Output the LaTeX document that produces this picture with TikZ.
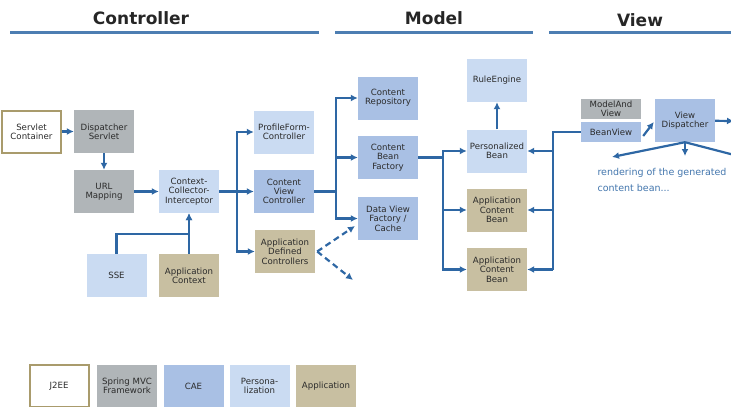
\documentclass[tikz,border=0pt]{standalone}
\usepackage{fontspec}
\setmainfont{DejaVu Sans}
\usetikzlibrary{positioning}
\usetikzlibrary{arrows.meta}
\usetikzlibrary{calc}

\definecolor{springgray}{HTML}{B0B5B8}
\definecolor{caeblue}{HTML}{A9C0E4}
\definecolor{persblue}{HTML}{CADBF2}
\definecolor{apptan}{HTML}{C8BFA1}
\definecolor{jeeborder}{HTML}{A99B6C}
\definecolor{linkblue}{HTML}{2E67A4}
\definecolor{boxtext}{HTML}{2B2B2B}

\begin{document}
\begin{tikzpicture}[x=1pt,y=-1pt,
    box/.style={minimum width=60pt,minimum height=43pt,inner sep=0pt,align=center,
        text=boxtext,font=\fontsize{8.6}{9.3}\selectfont},
    jee/.style={draw=jeeborder,line width=2pt,fill=white,minimum width=59pt,minimum height=42pt},
    spring/.style={fill=springgray},
    cae/.style={fill=caeblue},
    pers/.style={fill=persblue},
    app/.style={fill=apptan},
    head/.style={anchor=base,text=black!85,font=\bfseries\fontsize{17}{20}\selectfont},
    headline/.style={draw=linkblue!85,line width=2.2pt},
    link/.style={draw=linkblue,line width=2.2pt},
    arr/.style={link,-{Latex[length=7pt,width=7pt]}},
    dasharrow/.style={arr,dash pattern=on 6pt off 4pt},
    note/.style={anchor=west,align=left,text=linkblue!90,font=\fontsize{9.5}{15.5}\selectfont}]
    \useasboundingbox (0,0) rectangle (731,407);

    % Headings
    \node[head] (ctrltitle) at (141,24) {Controller};
    \node[head] (modeltitle) at (434,24) {Model};
    \node[head] (viewtitle) at (640,26) {View};
    \draw[headline] (10,32.5) -- (319,32.5);
    \draw[headline] (335,32.5) -- (533,32.5);
    \draw[headline] (549,32.5) -- (731,32.5);

    % Controller
    \node[box,jee] (servlet) at (31.5,131.5) {Servlet\\Container};
    \node[box,spring] (dispatch) at (104,131.5) {Dispatcher\\Servlet};
    \node[box,spring] (urlmap) at (104,191.5) {URL\\Mapping};
    \node[box,pers] (collector) at (189,191.5) {Context-\\Collector-\\Interceptor};
    \node[box,pers] (sse) at (116.5,275.5) {SSE};
    \node[box,app] (appctx) at (189,275.5) {Application\\Context};
    \node[box,pers] (profile) at (284,132) {ProfileForm-\\Controller};
    \node[box,cae] (cvc) at (284,191.5) {Content\\View\\Controller};
    \node[box,app] (appctrl) at (285,251.5) {Application\\Defined\\Controllers};

    % Model
    \node[box,cae] (repo) at (388,98) {Content\\Repository};
    \node[box,cae] (beanfac) at (388,157.5) {Content\\Bean\\Factory};
    \node[box,cae] (dataview) at (388,218.5) {Data View\\Factory /\\Cache};
    \node[box,pers] (rules) at (497,80.5) {RuleEngine};
    \node[box,pers] (persbean) at (497,151) {Personalized\\Bean};
    \node[box,app] (appbean1) at (497,210) {Application\\Content\\Bean};
    \node[box,app] (appbean2) at (497,269.5) {Application\\Content\\Bean};

    % View
    \node[box,spring,minimum height=20pt,font=\fontsize{8.6}{8.5}\selectfont] (mav) at (611,109) {ModelAnd\\View};
    \node[box,cae,minimum height=20pt] (beanview) at (611,132) {BeanView};
    \node[box,cae] (viewdisp) at (685,120.5) {View\\Dispatcher};
    \node[note] (render) at (594,180) {rendering of the generated\\content bean...};

    % Legend
    \node[box,jee] (legjee) at (59,386) {J2EE};
    \node[box,spring] (legspring) at (127,386) {Spring MVC\\Framework};
    \node[box,cae] (legcae) at (193.5,386) {CAE};
    \node[box,pers] (legpers) at (259.5,386) {Persona-\\lization};
    \node[box,app] (legapp) at (326,386) {Application};

    % Connectors
    \coordinate (ccisplit) at (237,191.5);
    \coordinate (ssejoin) at (189,234);
    \coordinate (cvcsplit) at (336,191.5);
    \coordinate (facsplit) at (443,157.5);
    \coordinate (viewsplit) at (553,132);
    \coordinate (dashto) at (355,226);
    \coordinate (dashaway) at (353,280);
    \coordinate (viewout) at (734,121);
    \coordinate (renderdown) at (685,156);
    \coordinate (renderleft) at (612,157);
    \coordinate (renderright) at (742,157);

    \draw[arr] (servlet) -- (dispatch);
    \draw[arr] (dispatch) -- (urlmap);
    \draw[arr] (urlmap) -- (collector);
    \draw[link] (collector) -- (ccisplit);
    \foreach \n in {profile,cvc,appctrl}
        \draw[arr] (ccisplit) |- (\n);
    \draw[arr] (sse) |- (ssejoin) -- (collector);
    \draw[arr] (appctx) -- (collector);

    \draw[link] (cvc) -- (cvcsplit);
    \foreach \n in {repo,beanfac,dataview}
        \draw[arr] (cvcsplit) |- (\n);
    \draw[dasharrow] ([xshift=2pt]appctrl.east) -- (dashto);
    \draw[dasharrow] ([xshift=2pt]appctrl.east) -- (dashaway);

    \draw[link] (beanfac) -- (facsplit);
    \foreach \n in {persbean,appbean1,appbean2}
        \draw[arr] (facsplit) |- (\n);
    \draw[arr] (persbean) -- (rules);

    \draw[link] (beanview) -- (viewsplit) -- (viewsplit |- appbean2);
    \foreach \n in {persbean,appbean1,appbean2}
        \draw[arr] (viewsplit |- \n) -- (\n);

    \draw[arr] ([xshift=2pt,yshift=-4pt]beanview.east) -- ([xshift=-1pt,yshift=-1.5pt]viewdisp.west);
    \draw[arr] (viewdisp) -- (viewout);
    \draw[arr] (viewdisp.south) -- (renderdown);
    \draw[arr] (viewdisp.south) -- (renderleft);
    \draw[arr] (viewdisp.south) -- (renderright);
\end{tikzpicture}
\end{document}
